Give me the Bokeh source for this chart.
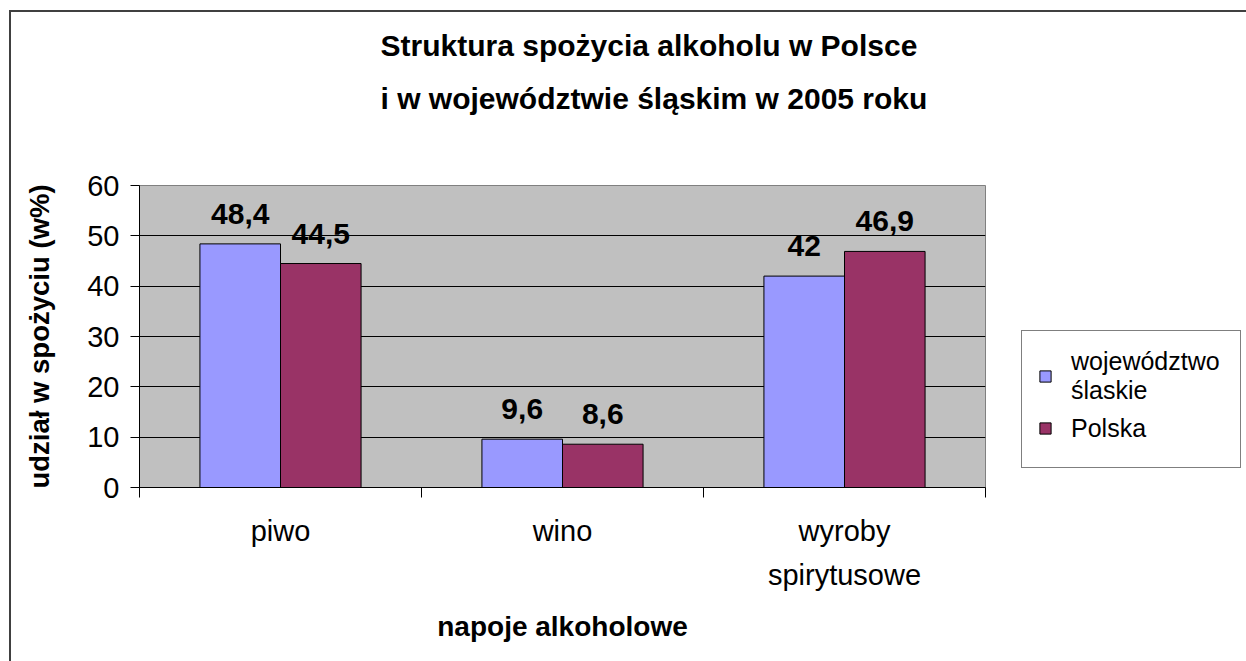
import numpy as np
from bokeh.plotting import figure
from bokeh.models import (ColumnDataSource, FixedTicker, LabelSet, Legend, LegendItem,
                          Title, Range1d)
from bokeh.core.properties import value
from bokeh.embed import file_html
from bokeh.resources import INLINE

# ---- data ----
categories = ["piwo", "wino", "wyroby\nspirytusowe"]
series_names = ["województwo\nślaskie", "Polska"]
slaskie = [48.4, 9.6, 42.0]
polska = [44.5, 8.6, 46.9]
y_ticks = [0, 10, 20, 30, 40, 50, 60]
title_lines = ["Struktura spożycia alkoholu w Polsce", "i w województwie śląskim w 2005 roku"]
x_title = "napoje alkoholowe"
y_title = "udział w spożyciu (w%)"

FONT = "Liberation Sans"
BLUE = "#9999FF"
PLUM = "#993366"
BAR_W = 0.2857

def fmt(v):
    return f"{v:g}".replace(".", ",")

n = len(categories)
centers = np.arange(n) + 0.5
src = ColumnDataSource(dict(
    xs=centers - BAR_W / 2, xp=centers + BAR_W / 2,
    slaskie=slaskie, polska=polska,
    ls=[fmt(v) for v in slaskie], lp=[fmt(v) for v in polska],
))

p = figure(frame_width=846, frame_height=302, output_backend="svg", toolbar_location=None,
           tools="", title=None,
           x_range=Range1d(0, n), y_range=Range1d(y_ticks[0], y_ticks[-1]),
           min_border_left=128, min_border_right=261, min_border_top=173, min_border_bottom=174)
p.styles = {"margin-left": "9px", "margin-top": "10px",
            "border-top": "2px solid #404040", "border-left": "2px solid #404040"}

p.background_fill_color = "#C0C0C0"
p.border_fill_color = "white"
p.outline_line_color = "#808080"
p.outline_line_width = 1

r1 = p.vbar(x="xs", top="slaskie", width=BAR_W, source=src, fill_color=BLUE,
            line_color="black", line_width=1)
r2 = p.vbar(x="xp", top="polska", width=BAR_W, source=src, fill_color=PLUM,
            line_color="black", line_width=1)

for xcol, ycol, tcol in (("xs", "slaskie", "ls"), ("xp", "polska", "lp")):
    p.add_layout(LabelSet(x=xcol, y=ycol, text=tcol, source=src, y_offset=30,
                          text_align="center", text_baseline="middle",
                          text_font=value(FONT), text_font_size="30px",
                          text_font_style="bold", text_color="black"))

# grid
p.xgrid.grid_line_color = None
p.ygrid.ticker = FixedTicker(ticks=y_ticks[1:-1])
p.ygrid.grid_line_color = "black"
p.ygrid.grid_line_width = 1

# y axis
ya = p.yaxis[0]
ya.ticker = FixedTicker(ticks=y_ticks)
ya.major_tick_out = 9
ya.major_tick_in = 0
ya.minor_tick_line_color = None
ya.axis_line_color = "black"
ya.major_tick_line_color = "black"
ya.major_label_text_font = FONT
ya.major_label_text_font_size = "29px"
ya.major_label_text_color = "black"
ya.major_label_standoff = 11
ya.axis_label = y_title
ya.axis_label_text_font = FONT
ya.axis_label_text_font_size = "27.5px"
ya.axis_label_text_font_style = "bold"
ya.axis_label_text_color = "black"
ya.axis_label_standoff = 29

# x axis
xa = p.xaxis[0]
xa.ticker = FixedTicker(ticks=list(centers), minor_ticks=list(range(n + 1)))
xa.major_label_overrides = {float(c): lab for c, lab in zip(centers, categories)}
xa.major_tick_out = 0
xa.major_tick_in = 0
xa.minor_tick_out = 10
xa.minor_tick_in = 0
xa.minor_tick_line_color = "black"
xa.axis_line_color = "black"
xa.major_label_text_font = FONT
xa.major_label_text_font_size = "29px"
xa.major_label_text_line_height = 1.4
xa.major_label_text_color = "black"
xa.major_label_standoff = 17
xa.axis_label = x_title
xa.axis_label_text_font = FONT
xa.axis_label_text_font_size = "28px"
xa.axis_label_text_font_style = "bold"
xa.axis_label_text_color = "black"
xa.axis_label_standoff = 17

# spacer between plot and title (first added = nearest the plot)
p.add_layout(Title(text=" ", text_font_size="1px", standoff=62), "above")
# title (Excel centres it on the whole chart area)
p.add_layout(Title(text="\n".join(title_lines), align="left", offset=241,
                   text_font=FONT, text_font_size="30px",
                   text_font_style="bold", text_color="black", text_line_height=1.633,
                   standoff=10), "above")

legend = Legend(items=[LegendItem(label=series_names[0], renderers=[r1]),
                       LegendItem(label=series_names[1], renderers=[r2])],
                location=(36, 19), orientation="vertical")
legend.label_text_font = FONT
legend.label_text_font_size = "25px"
legend.label_text_line_height = 1.25
legend.label_text_color = "black"
legend.label_width = 153
legend.label_height = 46
legend.glyph_width = 14
legend.glyph_height = 14
legend.label_standoff = 19
legend.padding = 16
legend.spacing = 0
legend.margin = 0
legend.border_line_color = "black"
legend.border_line_width = 1
legend.background_fill_color = "white"
legend.background_fill_alpha = 1
p.add_layout(legend, "right")

open("out.html", "w").write(file_html(p, INLINE, title="Struktura spożycia alkoholu"))
